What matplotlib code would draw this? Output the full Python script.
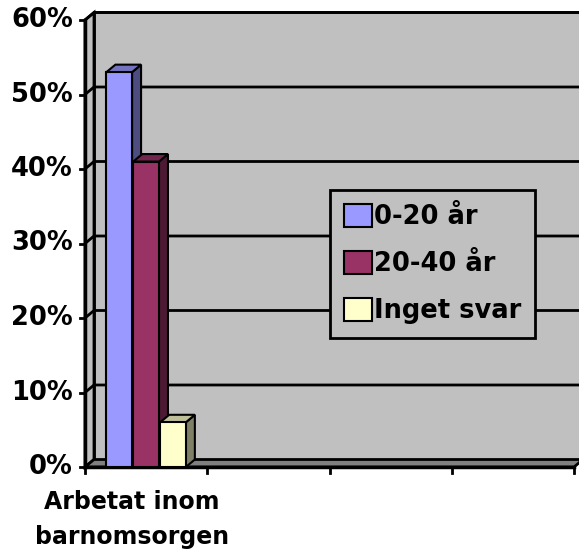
import matplotlib.pyplot as plt
from matplotlib.patches import Polygon

plt.rcParams['font.family'] = ['DejaVu Sans']

# data
categories = ["Arbetat inom\nbarnomsorgen", "", "", ""]
series = ["0-20 år", "20-40 år", "Inget svar"]
values = [53, 41, 6]
yticks = [0, 10, 20, 30, 40, 50, 60]

front_colors = ["#9999FF", "#993366", "#FFFFCC"]
side_colors = ["#4D4D80", "#4D1A33", "#808066"]
top_colors = ["#7373C0", "#73264D", "#BFBF99"]

W, H = 579, 558
px_left, px_right, px_bottom, px_top = 85, 574, 467, 20

fig = plt.figure(figsize=(W / 100, H / 100), dpi=100)
ax = fig.add_axes([px_left / W, 1 - px_bottom / H,
                   (px_right - px_left) / W, (px_bottom - px_top) / H])
nx = len(categories)
ymax = yticks[-1]
ax.set_xlim(0, nx)
ax.set_ylim(0, ymax)
ax.axis('off')

# depth offset in data units (about 9 px right, 7.5 px up)
ux = (px_right - px_left) / nx
uy = (px_bottom - px_top) / ymax
dx = 9 / ux
dy = 7.5 / uy

# walls and floor
ax.add_patch(Polygon([(dx, dy), (nx + dx, dy), (nx + dx, ymax + dy), (dx, ymax + dy)],
                     closed=True, fc="#C0C0C0", ec="black", lw=2, clip_on=False, zorder=1))
ax.add_patch(Polygon([(0, 0), (dx, dy), (dx, ymax + dy), (0, ymax)],
                     closed=True, fc="#C0C0C0", ec="black", lw=2, clip_on=False, zorder=1))
ax.add_patch(Polygon([(0, 0), (nx, 0), (nx + dx, dy), (dx, dy)],
                     closed=True, fc="#808080", ec="black", lw=2, clip_on=False, zorder=1))

# gridlines on the walls
for v in yticks[1:]:
    ax.plot([0, dx, nx + dx], [v, v + dy, v + dy], color="black", lw=2,
            clip_on=False, zorder=2, solid_capstyle='butt')

# axes lines and ticks
ax.plot([0, 0], [0, ymax], color="black", lw=2.5, clip_on=False, zorder=5)
ax.plot([0, nx], [0, 0], color="black", lw=2.5, clip_on=False, zorder=5)
for v in yticks:
    ax.plot([-5 / ux, 0], [v, v], color="black", lw=2, clip_on=False, zorder=5)
    ax.text(-12 / ux, v, f"{v}%", ha="right", va="center", fontsize=18.5,
            fontweight="bold", clip_on=False)
for i in range(nx + 1):
    ax.plot([i, i], [0, -6 / uy], color="black", lw=2, clip_on=False, zorder=5)

# bars with fake depth
width = 0.21
step = 0.22
center = 0.5
handles = []
for k, (name, v) in enumerate(zip(series, values)):
    xc = center + (k - 1) * step
    b = ax.bar(xc, v, width, color=front_colors[k], edgecolor="black", lw=1.5,
               zorder=10 + 3 * k, label=name)
    handles.append(b)
    xl, xr = xc - width / 2, xc + width / 2
    ax.add_patch(Polygon([(xr, 0), (xr + dx, dy), (xr + dx, v + dy), (xr, v)],
                         closed=True, fc=side_colors[k], ec="black", lw=1.5,
                         zorder=10 + 3 * k - 1))
    ax.add_patch(Polygon([(xl, v), (xr, v), (xr + dx, v + dy), (xl + dx, v + dy)],
                         closed=True, fc=top_colors[k], ec="black", lw=1.5,
                         zorder=10 + 3 * k - 1))

# category label
ax.text(0.385, -23 / uy, categories[0], ha="center", va="top", fontsize=17,
        fontweight="bold", linespacing=1.6, clip_on=False)

leg = ax.legend(handles=handles, loc="upper left", bbox_to_anchor=(0.501, 0.620),
                prop={"weight": "bold", "size": 18.5}, frameon=True, fancybox=False,
                facecolor="#C0C0C0", edgecolor="black", framealpha=1,
                handlelength=1.1, handleheight=1.0, handletextpad=0.05,
                labelspacing=0.8, borderpad=0.55, borderaxespad=0)
leg.get_frame().set_linewidth(2)
leg.set_zorder(30)

fig.savefig("out.png", dpi=100)
